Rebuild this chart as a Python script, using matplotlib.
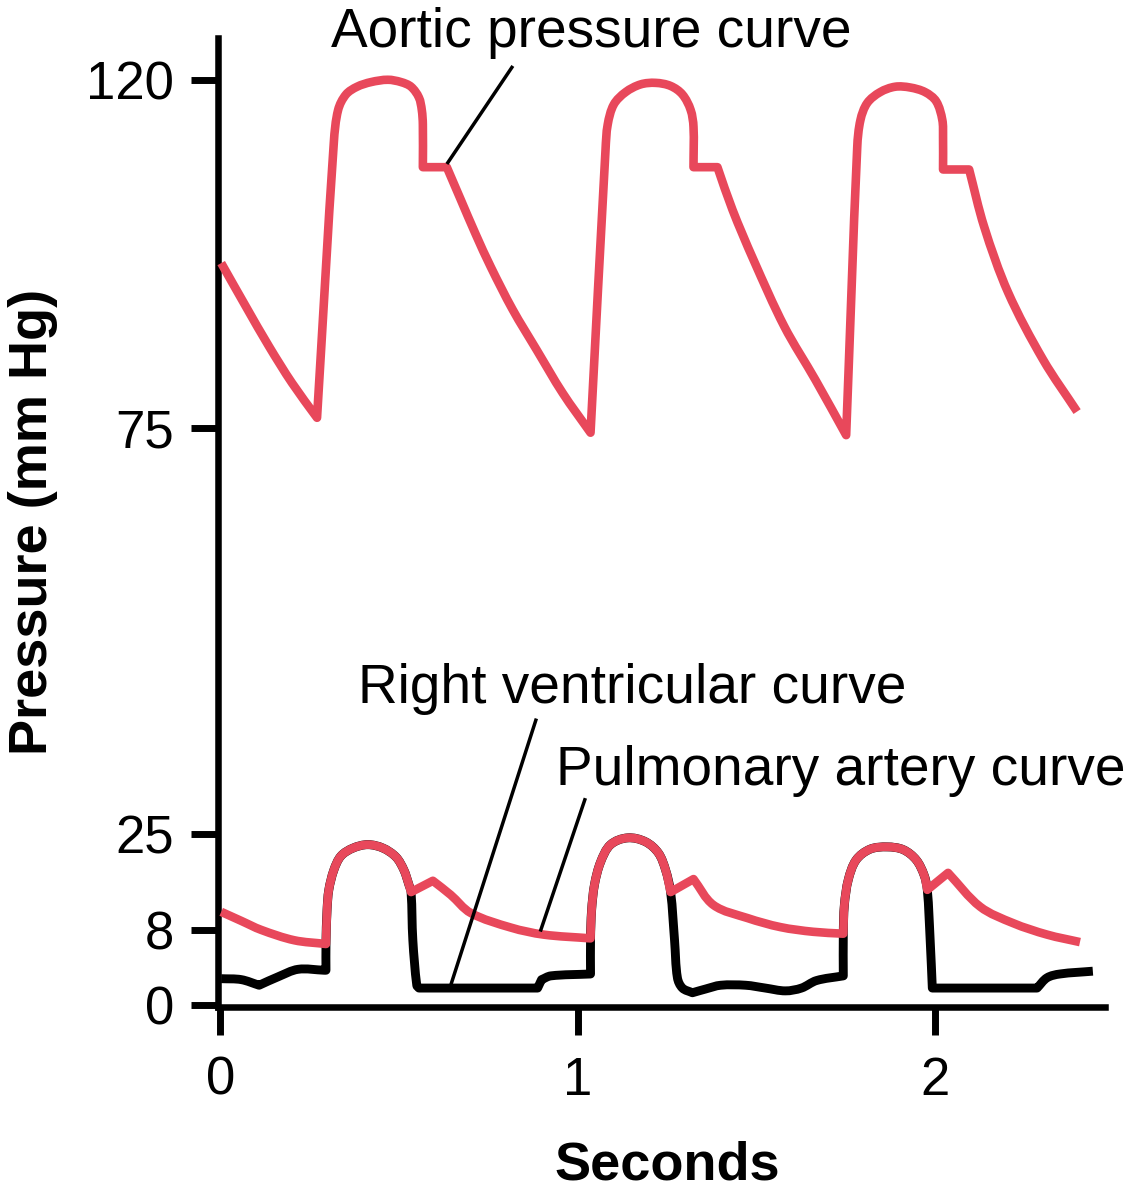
import numpy as np
import matplotlib
matplotlib.use("Agg")
import matplotlib.pyplot as plt
from matplotlib.path import Path
from matplotlib.patches import PathPatch
from matplotlib.transforms import IdentityTransform

plt.rcParams['font.family'] = ['Liberation Sans', 'DejaVu Sans']

# ---------------- data (time in s, pressure in mm Hg) ----------------
aortic_t = [0.003, 0.073, 0.137, 0.201, 0.271,
            0.318, 0.330, 0.352, 0.383, 0.422, 0.469, 0.506, 0.534, 0.556, 0.564, 0.567,
            0.567, 0.634,
            0.673, 0.715, 0.757, 0.818, 0.885, 0.958, 1.036,
            1.078, 1.084, 1.101, 1.134, 1.176, 1.218, 1.260, 1.293, 1.316, 1.324,
            1.324, 1.391,
            1.433, 1.492, 1.578, 1.665, 1.751,
            1.782, 1.791, 1.810, 1.846, 1.888, 1.930, 1.972, 2.003, 2.020, 2.022,
            2.022, 2.095,
            2.137, 2.204, 2.302, 2.397]
aortic_p = [96.3, 90.6, 85.5, 80.8, 76.3,
            111.9, 116.1, 118.1, 119.1, 119.7, 120.0, 119.7, 119.1, 117.7, 116.1, 114.2,
            108.7, 108.7,
            104.5, 100.0, 95.8, 90.3, 85.1, 79.5, 74.4,
            111.0, 114.2, 116.8, 118.4, 119.4, 119.6, 119.2, 118.1, 116.1, 113.9,
            108.7, 108.7,
            103.2, 96.7, 88.1, 81.2, 74.1,
            111.3, 114.8, 117.0, 118.4, 119.1, 119.0, 118.4, 117.2, 114.8, 112.6,
            108.4, 108.4,
            101.0, 92.5, 83.8, 77.1]

pulm_t = [0.003, 0.059, 0.115, 0.207, 0.296,
          0.299, 0.304, 0.318, 0.338, 0.372, 0.413, 0.455, 0.492, 0.514, 0.528, 0.534,
          0.595, 0.645, 0.701, 0.814, 0.905, 1.036,
          1.039, 1.047, 1.064, 1.092, 1.140, 1.190, 1.226, 1.246, 1.260,
          1.324, 1.380, 1.475, 1.567, 1.659, 1.743,
          1.746, 1.757, 1.779, 1.818, 1.866, 1.911, 1.947, 1.969, 1.978,
          2.036, 2.126, 2.218, 2.313, 2.405]
pulm_p = [11.2, 9.6, 8.0, 6.9, 6.5,
          11.5, 15.1, 18.6, 21.1, 22.5, 23.1, 22.5, 20.9, 18.6, 16.0, 14.7,
          16.7, 14.2, 11.0, 8.4, 7.5, 7.1,
          11.5, 16.0, 20.0, 23.1, 24.3, 23.6, 21.6, 18.6, 14.7,
          17.0, 12.4, 10.1, 8.5, 7.8, 7.6,
          12.4, 16.9, 20.4, 22.3, 22.7, 22.2, 20.4, 17.7, 15.1,
          18.1, 12.1, 9.2, 7.5, 6.7]

rv_t = [0.003, 0.059, 0.109, 0.162, 0.218, 0.291, 0.296,
        0.296, 0.299, 0.304, 0.318, 0.338, 0.372, 0.413, 0.455, 0.492, 0.514, 0.528, 0.534,
        0.539, 0.550, 0.556, 0.888, 0.899, 0.925, 1.036,
        1.036, 1.039, 1.047, 1.064, 1.092, 1.140, 1.190, 1.226, 1.246, 1.260,
        1.271, 1.279, 1.293, 1.321, 1.358, 1.400, 1.470, 1.525, 1.581, 1.626, 1.668, 1.743,
        1.743, 1.746, 1.757, 1.779, 1.818, 1.866, 1.911, 1.947, 1.969, 1.978,
        1.986, 1.992, 2.285, 2.313, 2.349, 2.441]
rv_p = [2.8, 2.7, 2.1, 3.0, 3.8, 3.7, 3.7,
        6.5, 11.5, 15.1, 18.6, 21.1, 22.5, 23.1, 22.5, 20.9, 18.6, 16.0, 14.7,
        6.9, 2.1, 1.8, 1.8, 2.7, 3.1, 3.3,
        7.1, 11.5, 16.0, 20.0, 23.1, 24.3, 23.6, 21.6, 18.6, 14.7,
        6.9, 2.9, 1.8, 1.3, 1.7, 2.1, 2.1, 1.8, 1.5, 1.8, 2.6, 3.1,
        7.6, 12.4, 16.9, 20.4, 22.3, 22.7, 22.2, 20.4, 17.7, 15.1,
        6.9, 1.8, 1.8, 2.9, 3.3, 3.6]

x_ticks = [0, 1, 2]
y_ticks = [0, 8, 25, 75, 120]
y_tick_spacing = [0, 75, 171, 577, 925]   # relative spacing of the schematic (non-linear) axis

label_aortic = "Aortic pressure curve"
label_rv = "Right ventricular curve"
label_pa = "Pulmonary artery curve"

RED = '#E8485B'

# ---------------- non-linear schematic y scale ----------------
VK = np.array([-100.0] + y_ticks + [1000.0], float)
PK = np.array([-100.0 * 75 / 8] + y_tick_spacing + [925 + 880 * 348 / 45], float)


def fwd(v):
    return np.interp(np.asarray(v, float), VK, PK)


def inv(p):
    return np.interp(np.asarray(p, float), PK, VK)


fig = plt.figure(figsize=(11.26, 11.93), dpi=100)
ax = fig.add_axes([218 / 1126, 1 - 1007 / 1193, (1105 - 218) / 1126, (1007 - 38) / 1193])
ax.set_yscale('function', functions=(fwd, inv))
ax.set_xlim(-0.006, 2.475)
ax.set_ylim(-0.22, 125.4)


def smooth_curve(ax, xs, ys, corner_deg=40):
    """Smooth curve through the series points (sharp corners kept)."""
    P = ax.transData.transform(np.column_stack([xs, ys]))
    keep = [0] + [i for i in range(1, len(P)) if np.hypot(*(P[i] - P[i - 1])) > 0.5]
    P = P[keep]
    n = len(P)
    seg = P[1:] - P[:-1]
    L = np.linalg.norm(seg, axis=1)
    u = seg / L[:, None]
    din = np.zeros_like(P)
    dout = np.zeros_like(P)
    din[0] = dout[0] = u[0]
    din[-1] = dout[-1] = u[-1]
    for i in range(1, n - 1):
        a, b = u[i - 1], u[i]
        ang = np.degrees(np.arccos(np.clip(np.dot(a, b), -1, 1)))
        if ang > corner_deg:
            din[i], dout[i] = a, b
        else:
            d = P[i + 1] - P[i - 1]
            d /= np.linalg.norm(d)
            din[i] = dout[i] = d
    verts = [P[0]]
    codes = [Path.MOVETO]
    for i in range(n - 1):
        verts += [P[i] + dout[i] * L[i] / 3, P[i + 1] - din[i + 1] * L[i] / 3, P[i + 1]]
        codes += [Path.CURVE4] * 3
    return Path(np.array(verts), codes)


for xs, ys, col, lw, z in [(rv_t, rv_p, 'black', 6.4, 2),
                           (pulm_t, pulm_p, RED, 6.2, 3),
                           (aortic_t, aortic_p, RED, 6.2, 3)]:
    ax.add_patch(PathPatch(smooth_curve(ax, xs, ys), transform=IdentityTransform(),
                           fill=False, edgecolor=col, lw=lw, joinstyle='round',
                           capstyle='butt', zorder=z, clip_on=False))

ax.set_xticks(x_ticks)
ax.set_xticklabels([str(v) for v in x_ticks])
ax.set_yticks(y_ticks)
ax.set_yticklabels([str(v) for v in y_ticks])
ax.minorticks_off()

for s in ['top', 'right']:
    ax.spines[s].set_visible(False)
for s in ['left', 'bottom']:
    ax.spines[s].set_linewidth(4.7)
ax.tick_params(axis='y', length=19.5, width=5, labelsize=38, pad=12)
ax.tick_params(axis='x', length=20, width=5, labelsize=38, pad=15)

# annotation pointers
ax.plot([0.637, 0.816], [109.3, 121.6], color='black', lw=2.5, clip_on=False, zorder=4)
ax.plot([0.645, 0.883], [2.1, 39.0], color='black', lw=2.5, clip_on=False, zorder=4)
ax.plot([0.897, 1.02], [8.0, 29.2], color='black', lw=2.5, clip_on=False, zorder=4)

ax.text(0.311, 124.3, label_aortic, fontsize=39.6, ha='left', va='baseline', clip_on=False)
ax.text(0.385, 41.1, label_rv, fontsize=39.6, ha='left', va='baseline', clip_on=False)
ax.text(0.939, 31.0, label_pa, fontsize=39.6, ha='left', va='baseline', clip_on=False)

fig.text(33 / 1126, 1 - 522 / 1193, "Pressure (mm Hg)", rotation=90, fontsize=39,
         fontweight='bold', ha='center', va='center')
fig.text(667 / 1126, 1 - 1180 / 1193, "Seconds", fontsize=39, fontweight='bold',
         ha='center', va='baseline')

fig.savefig('out.png', dpi=100)
